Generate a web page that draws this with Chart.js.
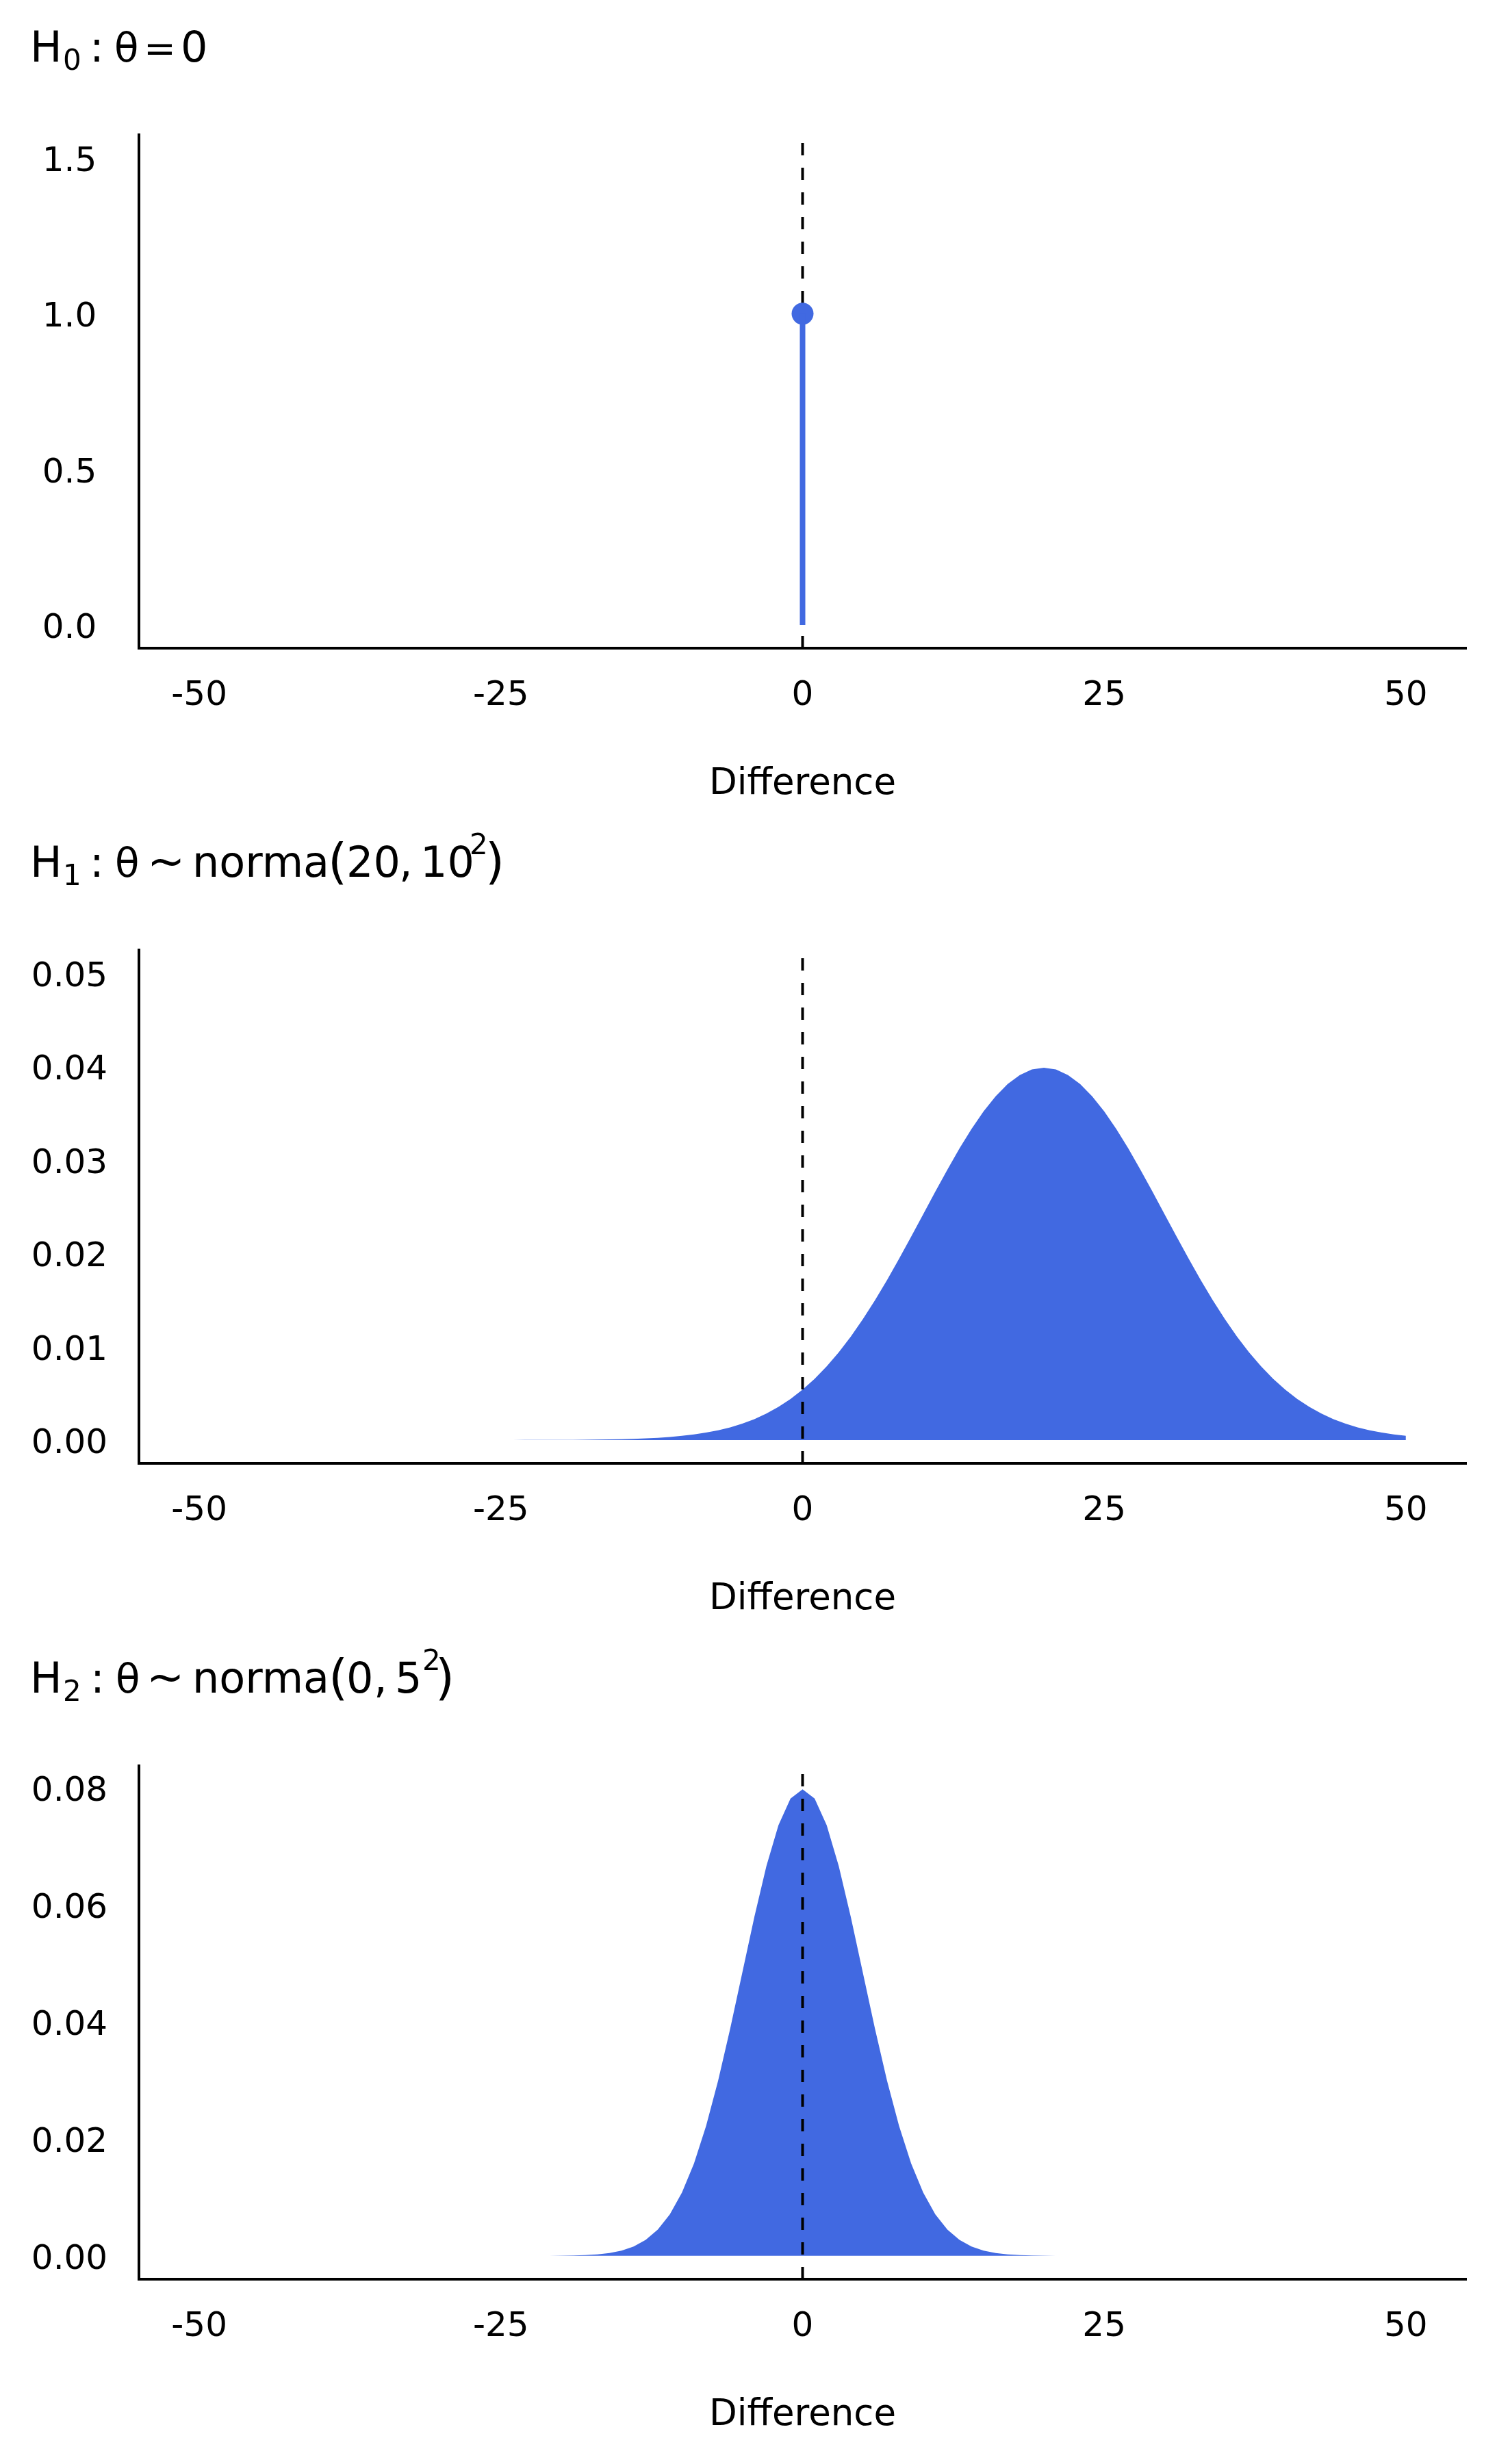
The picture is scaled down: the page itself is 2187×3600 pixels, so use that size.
<!DOCTYPE html>
<html>
<head>
<meta charset="utf-8">
<script src="https://cdn.jsdelivr.net/npm/chart.js@4.4.1/dist/chart.umd.min.js"></script>
<style>
  body { margin: 0; background: #fff; }
  canvas { position: absolute; left: 0; }
</style>
</head>
<body>
<canvas id="h0Chart" width="2187" height="1191" style="top:0px"></canvas>
<canvas id="h1Chart" width="2187" height="1191" style="top:1191px"></canvas>
<canvas id="h2Chart" width="2187" height="1191" style="top:2383px"></canvas>
<script>
// x grid of the density curves
const diffX = [
    -50, -49, -48, -47, -46, -45, -44, -43, -42, -41,
    -40, -39, -38, -37, -36, -35, -34, -33, -32, -31,
    -30, -29, -28, -27, -26, -25, -24, -23, -22, -21,
    -20, -19, -18, -17, -16, -15, -14, -13, -12, -11,
    -10, -9, -8, -7, -6, -5, -4, -3, -2, -1,
    0, 1, 2, 3, 4, 5, 6, 7, 8, 9,
    10, 11, 12, 13, 14, 15, 16, 17, 18, 19,
    20, 21, 22, 23, 24, 25, 26, 27, 28, 29,
    30, 31, 32, 33, 34, 35, 36, 37, 38, 39,
    40, 41, 42, 43, 44, 45, 46, 47, 48, 49,
    50
];

// H0: point mass
const h0X = [0];
const h0Y = [1];

// H1: density
const h1Density = [
    0, 0, 0, 0, 0, 0, 0, 0, 0, 0,
    0, 0, 0, 0, 0, 0, 0, 0, 0, 0,
    0, 0, 0, 0, 0, 0.0000016, 0.0000025, 0.0000039, 0.0000059, 0.0000089,
    0.0000134, 0.0000199, 0.0000292, 0.0000425, 0.0000612, 0.0000873, 0.000123, 0.000172, 0.000238, 0.000327,
    0.000443, 0.000595, 0.000792, 0.001042, 0.001358, 0.001753, 0.002239, 0.002833, 0.003547, 0.004398,
    0.005399, 0.006562, 0.007895, 0.009405, 0.011092, 0.012952, 0.014973, 0.017137, 0.019419, 0.021785,
    0.024197, 0.026609, 0.028969, 0.031225, 0.033322, 0.035207, 0.036827, 0.038139, 0.039104, 0.039695,
    0.039894, 0.039695, 0.039104, 0.038139, 0.036827, 0.035207, 0.033322, 0.031225, 0.028969, 0.026609,
    0.024197, 0.021785, 0.019419, 0.017137, 0.014973, 0.012952, 0.011092, 0.009405, 0.007895, 0.006562,
    0.005399, 0.004398, 0.003547, 0.002833, 0.002239, 0.001753, 0.001358, 0.001042, 0.000792, 0.000595,
    0.000443
];

// H2: density
const h2Density = [
    0, 0, 0, 0, 0, 0, 0, 0, 0, 0,
    0, 0, 0, 0, 0, 0, 0, 0, 0, 0,
    0, 0, 0, 0, 0, 0.0000003, 0.0000008, 0.0000020, 0.0000050, 0.0000118,
    0.0000268, 0.0000584, 0.000122, 0.000246, 0.000477, 0.000886, 0.001583, 0.002717, 0.004479, 0.007095,
    0.010798, 0.015790, 0.022184, 0.029945, 0.038837, 0.048394, 0.057938, 0.066645, 0.073654, 0.078209,
    0.079788, 0.078209, 0.073654, 0.066645, 0.057938, 0.048394, 0.038837, 0.029945, 0.022184, 0.015790,
    0.010798, 0.007095, 0.004479, 0.002717, 0.001583, 0.000886, 0.000477, 0.000246, 0.000122, 0.0000584,
    0.0000268, 0.0000118, 0.0000050, 0.0000020, 0.0000008, 0.0000003, 0, 0, 0, 0,
    0, 0, 0, 0, 0, 0, 0, 0, 0, 0,
    0, 0, 0, 0, 0, 0, 0, 0, 0, 0,
    0
];

const xTicks = [-50, -25, 0, 25, 50];
const h0Ticks = [0, 0.5, 1.0, 1.5];
const h1Ticks = [0, 0.01, 0.02, 0.03, 0.04, 0.05];
const h2Ticks = [0, 0.02, 0.04, 0.06, 0.08];
const refX = 0;

// title pieces: text, font size, baseline shift, left edge of ink
const h0Title = [["H", 62, 0, 50], ["0", 42, 12, 94], [":", 62, 0, 138], ["θ", 58, 0, 170],
                 ["=", 56, 0, 215], ["0", 62, 0, 268]];
const h1Title = [["H", 62, 0, 50], ["1", 42, 12, 96], [":", 62, 0, 138], ["θ", 58, 0, 171],
                 ["~", 66, 0, 222], ["norma", 62, 0, 286], ["(", 72, 2, 485], ["20", 62, 0, 510],
                 [",", 62, 0, 587], ["10", 62, 0, 620], ["2", 42, -33, 689], [")", 72, 2, 714]];
const h2Title = [["H", 62, 0, 50], ["2", 42, 12, 95], [":", 62, 0, 139], ["θ", 58, 0, 172],
                 ["~", 66, 0, 221], ["norma", 62, 0, 286], ["(", 72, 2, 486], ["0", 62, 0, 510],
                 [",", 62, 0, 550], ["5", 62, 0, 581], ["2", 42, -33, 620], [")", 72, 2, 641]];

const BLUE = "#4169e1";
const FONT = "'DejaVu Sans', sans-serif";
const TICK_SIZE = 50;
const AXIS_LEFT = 203;
const LABEL_CENTER = 101.5;

Chart.defaults.font.family = FONT;
Chart.defaults.color = "#000";

const mathTitle =
{
    id: "mathTitle",
    afterDraw(chart, args, opts)
    {
        const ctx = chart.ctx;
        ctx.save();
        ctx.fillStyle = "#000";
        ctx.textBaseline = "alphabetic";
        ctx.textAlign = "left";
        opts.parts.forEach(([text, size, dy, inkX]) =>
        {
            ctx.font = size + "px " + FONT;
            const m = ctx.measureText(text);
            ctx.fillText(text, inkX + m.actualBoundingBoxLeft, 90 + dy);
        });
        ctx.restore();
    }
};

function drawRef(chart)
{
    const { ctx, chartArea, scales } = chart;
    const px = scales.x.getPixelForValue(refX);
    ctx.save();
    ctx.strokeStyle = "#000";
    ctx.lineWidth = 4;
    ctx.setLineDash([18, 18]);
    ctx.beginPath();
    ctx.moveTo(px, chartArea.bottom);
    ctx.lineTo(px, chartArea.top);
    ctx.stroke();
    ctx.restore();
}

const refLine =
{
    id: "refLine",
    beforeDatasetsDraw(chart, args, opts) { if (!opts.front) drawRef(chart); },
    afterDatasetsDraw(chart, args, opts) { if (opts.front) drawRef(chart); }
};

// padding so that y tick labels are centred on a common x
function yPadding(labels)
{
    const ctx = document.createElement("canvas").getContext("2d");
    ctx.font = TICK_SIZE + "px " + FONT;
    const widest = Math.max(...labels.map(t => ctx.measureText(t).width));
    return AXIS_LEFT - LABEL_CENTER - widest / 2;
}

function makeChart(id, datasets, yTicks, yMin, yMax, decimals, titleParts, dashFront)
{
    const labels = yTicks.map(v => v.toFixed(decimals));
    return new Chart(document.getElementById(id),
    {
        type: "line",
        data: { datasets: datasets },
        plugins: [mathTitle, refLine],
        options:
        {
            responsive: false,
            devicePixelRatio: 1,
            animation: false,
            layout: { padding: { top: 197, right: 45, bottom: 0, left: 0 } },
            plugins:
            {
                legend: { display: false },
                tooltip: { enabled: false },
                mathTitle: { parts: titleParts },
                refLine: { front: dashFront }
            },
            scales:
            {
                x:
                {
                    type: "linear",
                    min: -55,
                    max: 55,
                    afterBuildTicks: s => { s.ticks = xTicks.map(v => ({ value: v })); },
                    afterFit: s => { s.height = 244; },
                    grid: { display: false, drawTicks: false },
                    border: { display: true, color: "#000", width: 4 },
                    ticks:
                    {
                        padding: 40,
                        autoSkip: false,
                        maxRotation: 0,
                        font: { size: TICK_SIZE },
                        callback: v => String(v)
                    },
                    title:
                    {
                        display: true,
                        text: "Difference",
                        font: { size: 53 },
                        padding: { top: 0, bottom: 13 }
                    }
                },
                y:
                {
                    type: "linear",
                    min: yMin,
                    max: yMax,
                    afterBuildTicks: s => { s.ticks = yTicks.map(v => ({ value: v })); },
                    afterFit: s => { s.width = AXIS_LEFT; },
                    grid: { display: false, drawTicks: false },
                    border: { display: true, color: "#000", width: 4 },
                    ticks:
                    {
                        padding: yPadding(labels),
                        crossAlign: "center",
                        labelOffset: 6,
                        autoSkip: false,
                        font: { size: TICK_SIZE },
                        callback: v => v.toFixed(decimals)
                    }
                }
            }
        }
    });
}

function densityDataset(values)
{
    return {
        data: diffX.map((x, i) => ({ x: x, y: values[i] })),
        borderColor: "rgba(0,0,0,0)",
        borderWidth: 0,
        backgroundColor: BLUE,
        fill: "origin",
        pointRadius: 0,
        tension: 0
    };
}

makeChart("h0Chart",
[
    {
        data: [{ x: h0X[0], y: 0 }, { x: h0X[0], y: h0Y[0] }],
        borderColor: BLUE,
        borderWidth: 8,
        borderCapStyle: "butt",
        pointRadius: 0,
        fill: false
    },
    {
        data: h0X.map((x, i) => ({ x: x, y: h0Y[i] })),
        showLine: false,
        pointRadius: 16,
        pointBackgroundColor: BLUE,
        pointBorderWidth: 0,
        borderColor: BLUE
    }
], h0Ticks, -0.075, 1.575, 1, h0Title, false);

makeChart("h1Chart", [densityDataset(h1Density)], h1Ticks, -0.0025, 0.0525, 2, h1Title, true);

makeChart("h2Chart", [densityDataset(h2Density)], h2Ticks, -0.004, 0.0838, 2, h2Title, true);
</script>
</body>
</html>
